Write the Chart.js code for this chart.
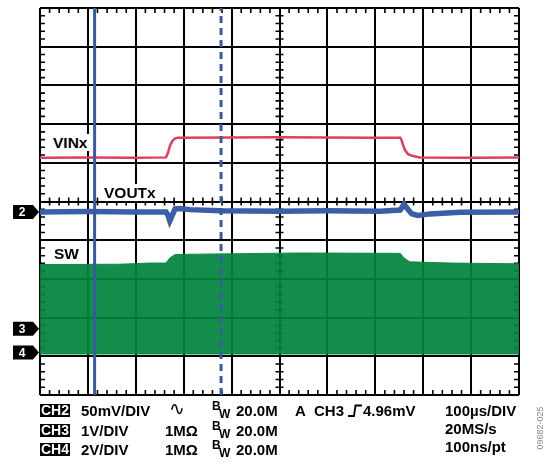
<!DOCTYPE html>
<html>
<head>
<meta charset="utf-8">
<script src="https://cdn.jsdelivr.net/npm/chart.js@4/dist/chart.umd.min.js"></script>
<style>
  body { margin: 0; background: #fff; }
  #wrap { position: relative; width: 545px; height: 467px; overflow: hidden; }
  .t { position: absolute; font: bold 15px "Liberation Sans", Arial, sans-serif; line-height: 15px; color: #000; white-space: nowrap; }
  .lbl { background: #fff; padding: 1px 3px; font-size: 15.5px; }
  .ch { background: #000; color: #fff; font-size: 14px; line-height: 13px; padding: 0 1px; }
  .sm { font-size: 12px; line-height: 12px; }
  #code { position: absolute; left: 540px; top: 428px; font: 9px "Liberation Sans", Arial, sans-serif; color: #8a8a8a;
          transform: translate(-50%, -50%) rotate(-90deg); white-space: nowrap; }
</style>
</head>
<body>
<div id="wrap">
  <canvas id="scope" width="545" height="467"></canvas>

  <div class="t lbl" style="left:50px; top:134px;">VINx</div>
  <div class="t lbl" style="left:101px; top:184px;">VOUTx</div>
  <div class="t lbl" style="left:51px; top:245px;">SW</div>

  <div class="t ch" style="left:40px; top:404px;">CH2</div>
  <div class="t" style="left:81px; top:403px;">50mV/DIV</div>
  <div class="t" style="left:169px; top:401px; font-size:19px; font-weight:normal;">∿</div>
  <div class="t sm" style="left:212px; top:400px;">B</div>
  <div class="t sm" style="left:219px; top:408px;">W</div>
  <div class="t" style="left:236px; top:403px;">20.0M</div>
  <div class="t" style="left:295px; top:403px;">A</div>
  <div class="t" style="left:314px; top:403px;">CH3</div>
  <svg style="position:absolute; left:348px; top:404px;" width="14" height="13">
    <path d="M0,12 H6 L7.5,1.5 H14" fill="none" stroke="#000" stroke-width="1.8"/>
  </svg>
  <div class="t" style="left:363px; top:403px;">4.96mV</div>
  <div class="t" style="left:445px; top:403px;">100µs/DIV</div>

  <div class="t ch" style="left:40px; top:424px;">CH3</div>
  <div class="t" style="left:81px; top:423px;">1V/DIV</div>
  <div class="t" style="left:165px; top:423px;">1MΩ</div>
  <div class="t sm" style="left:212px; top:420px;">B</div>
  <div class="t sm" style="left:219px; top:428px;">W</div>
  <div class="t" style="left:236px; top:423px;">20.0M</div>
  <div class="t" style="left:445px; top:421px;">20MS/s</div>

  <div class="t ch" style="left:40px; top:443px;">CH4</div>
  <div class="t" style="left:81px; top:442px;">2V/DIV</div>
  <div class="t" style="left:165px; top:442px;">1MΩ</div>
  <div class="t sm" style="left:212px; top:439px;">B</div>
  <div class="t sm" style="left:219px; top:447px;">W</div>
  <div class="t" style="left:236px; top:442px;">20.0M</div>
  <div class="t" style="left:445px; top:439px;">100ns/pt</div>

  <div id="code">09682-025</div>
</div>

<script>
// time in µs (100µs/DIV), amplitude in screen divisions
const vinTime = [-500, -400, -300, -237, -233, -229, -224, -218, -212, 0, 200, 252, 254, 258, 262, 268, 277, 293, 400, 500];
const vinLevel = [1.13, 1.14, 1.13, 1.14, 1.25, 1.43, 1.56, 1.63, 1.65, 1.66, 1.65, 1.65, 1.61, 1.46, 1.33, 1.23, 1.18, 1.14, 1.13, 1.14];

const voutTime = [-500, -400, -300, -237, -233, -229, -224, -218, -208, -187, -124, 0, 100, 210, 252, 260, 268, 276, 289, 314, 377, 500];
const voutLevel = [-0.27, -0.26, -0.27, -0.27, -0.35, -0.50, -0.36, -0.19, -0.18, -0.21, -0.24, -0.25, -0.24, -0.25, -0.22, -0.07, -0.20, -0.32, -0.36, -0.32, -0.28, -0.27];

const swTime = [-500, -333, -270, -237, -229, -218, -166, 43, 252, 260, 272, 356, 500];
const swTop = [-1.63, -1.62, -1.59, -1.59, -1.46, -1.37, -1.36, -1.33, -1.34, -1.46, -1.56, -1.59, -1.61];
const swBottom = [-3.94, -3.94, -3.94, -3.94, -3.94, -3.94, -3.94, -3.94, -3.94, -3.94, -3.94, -3.94, -3.94];

const cursorSolid = -386;
const cursorDashed = -122;

const markerNames = ["2", "3", "4"];
const markerLevels = [-0.27, -3.29, -3.90];

const xTicks = [-500, -400, -300, -200, -100, 0, 100, 200, 300, 400, 500];
const yTicks = [-5, -4, -3, -2, -1, 0, 1, 2, 3, 4, 5];

function pts(xs, ys) {
    return xs.map((x, i) => ({ x: x, y: ys[i] }));
}

// minor ticks on the border and centre lines, like a scope graticule
const graticule = {
    id: 'graticule',
    beforeDatasetsDraw(chart) {
        const { ctx, chartArea: a, scales: { x, y } } = chart;
        ctx.save();
        ctx.strokeStyle = '#000';
        ctx.lineWidth = 1.6;
        ctx.beginPath();
        const x0 = x.getPixelForValue(0), y0 = y.getPixelForValue(0);
        for (let i = 0; i < xTicks.length - 1; i++) {
            for (let k = 1; k < 5; k++) {
                const px = x.getPixelForValue(xTicks[i] + k * 20);
                ctx.moveTo(px, a.top); ctx.lineTo(px, a.top + 5);
                ctx.moveTo(px, a.bottom); ctx.lineTo(px, a.bottom - 5);
                ctx.moveTo(px, y0 - 4); ctx.lineTo(px, y0 + 4);
            }
        }
        for (let i = 0; i < yTicks.length - 1; i++) {
            for (let k = 1; k < 5; k++) {
                const py = y.getPixelForValue(yTicks[i] + k * 0.2);
                ctx.moveTo(a.left, py); ctx.lineTo(a.left + 5, py);
                ctx.moveTo(a.right, py); ctx.lineTo(a.right - 5, py);
                ctx.moveTo(x0 - 4, py); ctx.lineTo(x0 + 4, py);
            }
        }
        ctx.stroke();
        ctx.restore();
    },
    afterDraw(chart) {
        // channel ground markers at the left edge
        const { ctx, chartArea: a, scales: { y } } = chart;
        ctx.save();
        markerLevels.forEach((lv, i) => {
            const py = y.getPixelForValue(lv);
            ctx.fillStyle = '#000';
            ctx.beginPath();
            ctx.moveTo(a.left - 27, py - 7);
            ctx.lineTo(a.left - 7, py - 7);
            ctx.lineTo(a.left - 1, py);
            ctx.lineTo(a.left - 7, py + 7);
            ctx.lineTo(a.left - 27, py + 7);
            ctx.closePath();
            ctx.fill();
            ctx.fillStyle = '#fff';
            ctx.font = 'bold 12px "Liberation Sans", Arial, sans-serif';
            ctx.textAlign = 'center';
            ctx.textBaseline = 'middle';
            ctx.fillText(markerNames[i], a.left - 18, py + 1);
        });
        ctx.restore();
    }
};

const gridOpts = { color: '#000', lineWidth: 2, drawTicks: false };

new Chart(document.getElementById('scope'), {
    type: 'line',
    data: {
        datasets: [
            {
                data: pts(swTime, swTop),
                borderColor: 'rgba(8,135,62,0.95)',
                borderWidth: 1,
                backgroundColor: 'rgba(3,132,60,0.93)',
                fill: '+1',
                order: 5
            },
            {
                data: pts(swTime, swBottom),
                borderColor: 'rgba(8,135,62,0.95)',
                borderWidth: 1,
                fill: false,
                order: 6
            },
            {
                data: pts(vinTime, vinLevel),
                borderColor: '#df3f5f',
                borderWidth: 2.5,
                fill: false,
                order: 3
            },
            {
                data: pts(voutTime, voutLevel),
                borderColor: '#3a5fa8',
                borderWidth: 5.5,
                fill: false,
                order: 2
            },
            {
                data: pts([cursorSolid, cursorSolid], [-5, 5]),
                borderColor: '#365aa3',
                borderWidth: 3,
                fill: false,
                order: 1
            },
            {
                data: pts([cursorDashed, cursorDashed], [-5, 5]),
                borderColor: '#365aa3',
                borderWidth: 3,
                borderDash: [7, 5],
                fill: false,
                order: 1
            }
        ]
    },
    options: {
        responsive: false,
        animation: false,
        layout: { padding: { left: 40, right: 26, top: 8, bottom: 72 } },
        elements: { point: { radius: 0 }, line: { tension: 0 } },
        plugins: { legend: { display: false }, tooltip: { enabled: false } },
        scales: {
            x: {
                type: 'linear', min: -500, max: 500,
                ticks: { display: false, stepSize: 100 },
                grid: gridOpts,
                border: { display: false }
            },
            y: {
                type: 'linear', min: -5, max: 5,
                ticks: { display: false, stepSize: 1 },
                grid: gridOpts,
                border: { display: false }
            }
        }
    },
    plugins: [graticule]
});
</script>
</body>
</html>
